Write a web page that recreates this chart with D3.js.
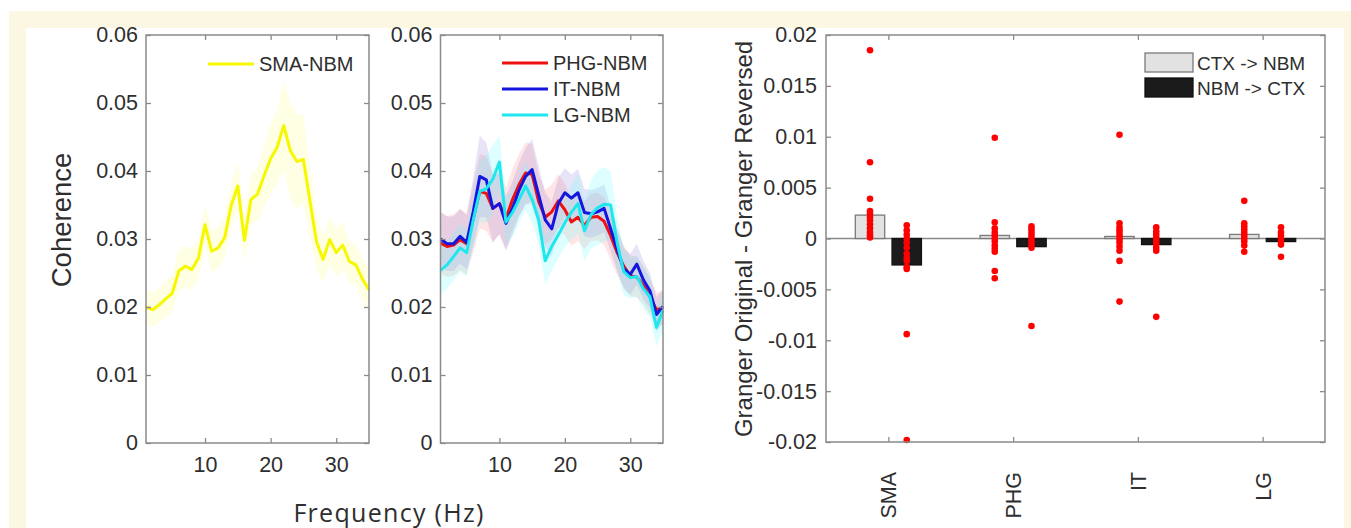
<!DOCTYPE html>
<html>
<head>
<meta charset="utf-8">
<script src="https://cdn.jsdelivr.net/npm/d3@7"></script>
<style>
  body { margin: 0; background: #fff; }
  svg text { font-family: "Liberation Sans", Arial, sans-serif; fill: #2e2e2e; }
  .axis path.domain { display: none; }
  .axis line { stroke: #8a8a8a; stroke-width: 1.3; }
  .axis text { font-size: 21.5px; }
  .leg { font-size: 20px; }
</style>
</head>
<body>
<svg id="fig" width="1351" height="528"></svg>
<script>
(function(){
  'use strict';

  // ---- data ----
  var freqs = [1,2,3,4,5,6,7,8,9,10,11,12,13,14,15,16,17,18,19,20,21,22,23,24,25,26,27,28,29,30,31,32,33,34,35];

  var smaNbm = [0.0200,0.0196,0.0203,0.0212,0.0220,0.0253,0.0260,0.0255,0.0272,0.0321,0.0282,0.0287,0.0302,0.0350,0.0378,
                0.0298,0.0358,0.0366,0.0393,0.0418,0.0435,0.0467,0.0430,0.0414,0.0417,0.0356,0.0296,0.0270,0.0299,0.0280,
                0.0291,0.0267,0.0262,0.0241,0.0225];
  var smaSem = [0.0025,0.0025,0.0025,0.0027,0.0028,0.003,0.003,0.003,0.003,0.003,0.003,0.003,0.003,0.0032,0.0035,
                0.0032,0.0035,0.004,0.0045,0.005,0.0055,0.0065,0.007,0.007,0.0065,0.005,0.004,0.0035,0.0035,0.0035,
                0.0035,0.003,0.003,0.003,0.003];

  var phgNbm = [0.0294,0.0289,0.0291,0.0299,0.0293,0.0330,0.0370,0.0367,0.0345,0.0352,0.0330,0.0358,0.0380,0.0397,0.0395,
                0.0355,0.0332,0.0340,0.0356,0.0343,0.0325,0.0332,0.0320,0.0332,0.0333,0.0326,0.0305,0.0280,0.0260,0.0246,
                0.0244,0.0232,0.0215,0.0196,0.0199];
  var phgSem = [0.0045,0.0045,0.0045,0.0045,0.0045,0.005,0.0055,0.0055,0.005,0.0045,0.0045,0.0045,0.0045,0.0045,0.0045,
                0.004,0.004,0.004,0.004,0.0038,0.0035,0.0035,0.0035,0.0035,0.0035,0.0035,0.0035,0.0033,0.003,0.003,
                0.003,0.0028,0.0026,0.0025,0.0025];

  var itNbm = [0.0300,0.0293,0.0293,0.0304,0.0295,0.0340,0.0392,0.0387,0.0345,0.0352,0.0323,0.0345,0.0372,0.0392,0.0402,
               0.0365,0.0328,0.0315,0.0352,0.0368,0.0360,0.0368,0.0339,0.0337,0.0340,0.0345,0.0315,0.0285,0.0256,0.0248,
               0.0263,0.0240,0.0224,0.0189,0.0201];
  var itSem = [0.004,0.004,0.004,0.004,0.004,0.005,0.006,0.0055,0.005,0.0045,0.004,0.004,0.004,0.0042,0.0045,
               0.0042,0.004,0.004,0.0038,0.0036,0.0035,0.0035,0.0035,0.0035,0.0035,0.0035,0.0033,0.0032,0.003,0.003,
               0.003,0.0028,0.0026,0.0025,0.0025];

  var lgNbm = [0.0254,0.0262,0.0274,0.0287,0.0280,0.0328,0.0370,0.0374,0.0388,0.0413,0.0325,0.0339,0.0358,0.0378,0.0358,
               0.0328,0.0268,0.0289,0.0306,0.0324,0.0339,0.0352,0.0312,0.0336,0.0346,0.0351,0.0350,0.0294,0.0252,0.0243,
               0.0245,0.0227,0.0215,0.0170,0.0195];
  var lgSem = [0.0035,0.0035,0.0035,0.0035,0.0035,0.004,0.0045,0.005,0.005,0.004,0.0035,0.0035,0.0035,0.0035,0.0035,
               0.0035,0.0035,0.0035,0.0035,0.0035,0.004,0.0045,0.0045,0.005,0.0055,0.0055,0.005,0.004,0.0035,0.003,
               0.003,0.003,0.003,0.0028,0.0028];

  var cohTicks = [0,0.01,0.02,0.03,0.04,0.05,0.06];
  var cohTickLabels = ['0','0.01','0.02','0.03','0.04','0.05','0.06'];
  var freqTicks = [10,20,30];

  var regions = ['SMA','PHG','IT','LG'];
  var dirs = ['CTX -> NBM','NBM -> CTX'];
  var meanCtx = [0.0023, 0.0003, 0.0002, 0.0004];
  var meanNbm = [-0.0026, -0.0008, -0.0006, -0.0003];
  var ptsCtx = [
    [0.0185,0.0075,0.0039,0.0027,0.0024,0.0021,0.0018,0.0014,0.0010,0.0006,0.0003,0.0001],
    [0.0099,0.0016,0.0010,0.0006,0.0003,0.0,-0.0003,-0.0007,-0.0010,-0.0013,-0.0032,-0.0039],
    [0.0102,0.0015,0.0011,0.0008,0.0005,0.0002,-0.0001,-0.0004,-0.0008,-0.0012,-0.0022,-0.0062],
    [0.0037,0.0015,0.0012,0.0009,0.0006,0.0003,0.0,-0.0003,-0.0007,-0.0013]
  ];
  var ptsNbm = [
    [0.0013,0.0008,0.0004,0.0,-0.0004,-0.0009,-0.0015,-0.0019,-0.0022,-0.0028,-0.0030,-0.0094,-0.0198],
    [0.0012,0.0009,0.0006,0.0003,0.0,-0.0003,-0.0006,-0.0009,-0.0086],
    [0.0011,0.0007,0.0004,0.0001,-0.0002,-0.0005,-0.0009,-0.0012,-0.0077],
    [0.0011,0.0006,0.0003,0.0,-0.0003,-0.0006,-0.0018]
  ];
  var gcTicks = [-0.02,-0.015,-0.01,-0.005,0,0.005,0.01,0.015,0.02];
  var gcTickLabels = ['-0.02','-0.015','-0.01','-0.005','0','0.005','0.01','0.015','0.02'];

  // ---- frame ----
  var svg = d3.select('#fig');
  svg.append('rect').attr('x', 9).attr('y', 11).attr('width', 1342).attr('height', 517).attr('fill', '#fcf7e2');
  svg.append('rect').attr('x', 26).attr('y', 28).attr('width', 1318).attr('height', 500).attr('fill', '#fff');

  function boxAxes(g, x, y, opts) {
    var xr = x.range(), yr = y.range();
    g.append('rect')
      .attr('x', xr[0]).attr('y', yr[1])
      .attr('width', xr[1] - xr[0]).attr('height', yr[0] - yr[1])
      .attr('fill', 'none').attr('stroke', '#8a8a8a').attr('stroke-width', 1.5);
    var bottom = opts.bottom, left = opts.left;
    g.append('g').attr('class', 'axis xb')
      .attr('transform', 'translate(0,' + yr[0] + ')')
      .call(bottom);
    g.append('g').attr('class', 'axis')
      .attr('transform', 'translate(0,' + yr[1] + ')')
      .call(opts.top);
    g.append('g').attr('class', 'axis')
      .attr('transform', 'translate(' + xr[0] + ',0)')
      .call(left);
    g.append('g').attr('class', 'axis')
      .attr('transform', 'translate(' + xr[1] + ',0)')
      .call(opts.right);
  }

  function cohPanel(x0, x1, series, legX, legY) {
    var x = d3.scaleLinear().domain([1, 35]).range([x0, x1]);
    var y = d3.scaleLinear().domain([0, 0.06]).range([443, 35]);
    var g = svg.append('g');

    series.forEach(function(s){
      var area = d3.area()
        .x(function(d, i){ return x(freqs[i]); })
        .y0(function(d, i){ return y(d - s.sem[i]); })
        .y1(function(d, i){ return y(d + s.sem[i]); });
      g.append('path').datum(s.vals)
        .attr('d', area)
        .attr('fill', s.band)
        .attr('fill-opacity', s.bandOp);
    });
    series.forEach(function(s){
      var line = d3.line()
        .x(function(d, i){ return x(freqs[i]); })
        .y(function(d){ return y(d); });
      g.append('path').datum(s.vals)
        .attr('d', line)
        .attr('fill', 'none')
        .attr('stroke', s.c)
        .attr('stroke-width', 3)
        .attr('stroke-linejoin', 'round');
    });

    boxAxes(g, x, y, {
      bottom: d3.axisBottom(x).tickValues(freqTicks).tickSizeInner(-5).tickSizeOuter(0).tickPadding(14),
      top: d3.axisTop(x).tickValues(freqTicks).tickSizeInner(-5).tickSizeOuter(0).tickFormat(''),
      left: d3.axisLeft(y).tickValues(cohTicks).tickSizeInner(-5).tickSizeOuter(0).tickPadding(8)
              .tickFormat(function(d, i){ return cohTickLabels[i]; }),
      right: d3.axisRight(y).tickValues(cohTicks).tickSizeInner(-5).tickSizeOuter(0).tickFormat('')
    });

    // legend
    var leg = g.append('g');
    series.forEach(function(s, i){
      var yy = legY + i * 26;
      leg.append('line').attr('x1', legX).attr('x2', legX + 46).attr('y1', yy).attr('y2', yy)
        .attr('stroke', s.c).attr('stroke-width', 3);
      leg.append('text').attr('class', 'leg')
        .attr('x', legX + 51).attr('y', yy).attr('dy', '0.35em')
        .text(s.name);
    });
  }

  cohPanel(146, 369, [
    {name: 'SMA-NBM', vals: smaNbm, sem: smaSem, c: '#f7f700', band: '#ffff66', bandOp: 0.18}
  ], 208, 64);

  cohPanel(440.5, 663, [
    {name: 'PHG-NBM', vals: phgNbm, sem: phgSem, c: '#ee1111', band: '#ff6060', bandOp: 0.16},
    {name: 'IT-NBM',  vals: itNbm,  sem: itSem,  c: '#1515e0', band: '#6a5acd', bandOp: 0.16},
    {name: 'LG-NBM',  vals: lgNbm,  sem: lgSem,  c: '#1ee8ee', band: '#66ffff', bandOp: 0.22}
  ], 502, 63);

  svg.append('text')
    .attr('transform', 'translate(71,220) rotate(-90)')
    .attr('text-anchor', 'middle')
    .style('font-size', '27.5px')
    .text('Coherence');

  svg.append('text')
    .attr('x', 389).attr('y', 522)
    .attr('text-anchor', 'middle')
    .style('font-family', '"Open Sans", sans-serif')
    .style('font-size', '25px')
    .style('letter-spacing', '1.3px')
    .text('Frequency (Hz)');

  // ---- granger panel ----
  var xc = d3.scalePoint().domain(regions).range([826, 1325]).padding(0.5);
  var xs = d3.scaleBand().domain(dirs)
    .range([-0.265 * xc.step(), 0.265 * xc.step()]).paddingInner(0.2);
  var yg = d3.scaleLinear().domain([-0.02, 0.02]).range([442, 35]);
  var gg = svg.append('g');

  gg.append('line')
    .attr('x1', 826).attr('x2', 1325).attr('y1', yg(0)).attr('y2', yg(0))
    .attr('stroke', '#8a8a8a').attr('stroke-width', 1.5);

  var barFill = ['#e2e2e2', '#1b1b1b'];
  var barStroke = ['#7a7a7a', '#111'];
  [meanCtx, meanNbm].forEach(function(arr, j){
    gg.selectAll('.bar' + j)
      .data(arr)
      .enter()
      .append('rect')
      .attr('x', function(d, i){ return xc(regions[i]) + xs(dirs[j]); })
      .attr('y', function(d){ return yg(Math.max(0, d)); })
      .attr('width', xs.bandwidth())
      .attr('height', function(d){ return Math.abs(yg(d) - yg(0)); })
      .attr('fill', barFill[j])
      .attr('stroke', barStroke[j])
      .attr('stroke-width', 1.3);
  });

  [ptsCtx, ptsNbm].forEach(function(sets, j){
    sets.forEach(function(vals, i){
      gg.selectAll('.pt' + j + '_' + i)
        .data(vals)
        .enter()
        .append('circle')
        .attr('cx', xc(regions[i]) + xs(dirs[j]) + xs.bandwidth() / 2)
        .attr('cy', function(d){ return yg(d); })
        .attr('r', 3.3)
        .attr('fill', '#ff0000');
    });
  });

  boxAxes(gg, xc, yg, {
    bottom: d3.axisBottom(xc).tickSizeInner(-5).tickSizeOuter(0),
    top: d3.axisTop(xc).tickSizeInner(-5).tickSizeOuter(0).tickFormat(''),
    left: d3.axisLeft(yg).tickValues(gcTicks).tickSizeInner(-5).tickSizeOuter(0).tickPadding(9)
            .tickFormat(function(d, i){ return gcTickLabels[i]; }),
    right: d3.axisRight(yg).tickValues(gcTicks).tickSizeInner(-5).tickSizeOuter(0).tickFormat('')
  });
  gg.select('.xb').selectAll('text')
    .attr('transform', 'rotate(-90)')
    .attr('x', -30).attr('y', 0).attr('dy', '0.35em')
    .style('text-anchor', 'end');

  // legend
  var lg = gg.append('g');
  dirs.forEach(function(d, j){
    var yy = 53 + j * 25;
    lg.append('rect').attr('x', 1145).attr('y', yy).attr('width', 48).attr('height', 19)
      .attr('fill', barFill[j]).attr('stroke', barStroke[j]).attr('stroke-width', 1.3);
    lg.append('text').attr('x', 1197).attr('y', yy + 10).attr('dy', '0.35em')
      .style('font-size', '19px')
      .text(d);
  });

  svg.append('text')
    .attr('transform', 'translate(752,239) rotate(-90)')
    .attr('text-anchor', 'middle')
    .style('font-size', '24px')
    .text('Granger Original - Granger Reversed');

}());
</script>
</body>
</html>
